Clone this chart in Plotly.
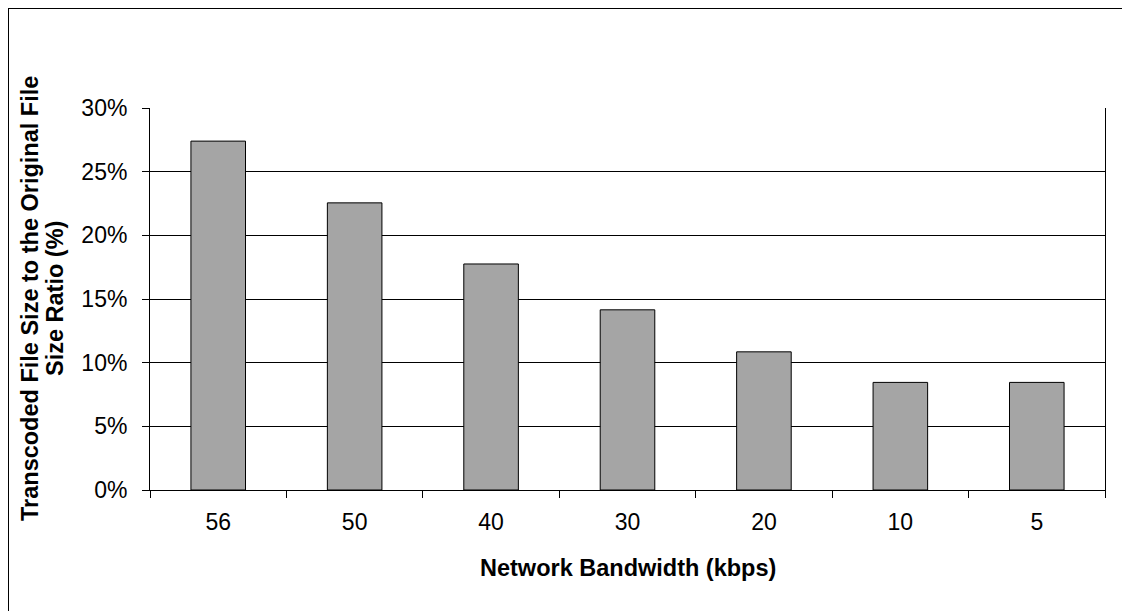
import plotly.graph_objects as go

# Network bandwidth categories and the resulting size ratios (%)
bandwidth_kbps = ["56", "50", "40", "30", "20", "10", "5"]
size_ratio_pct = [27.4, 22.55, 17.75, 14.15, 10.85, 8.45, 8.45]

y_ticks = [0, 5, 10, 15, 20, 25, 30]
y_tick_text = ["0%", "5%", "10%", "15%", "20%", "25%", "30%"]

W, H = 1122, 611
L, R, T, B = 150, 17, 108, 121
plot_w = W - L - R
plot_h = H - T - B

FONT = "Liberation Sans, Arial, Helvetica, sans-serif"
TICK_SIZE = 23
TITLE_SIZE = 23.5

fig = go.Figure(
    go.Bar(
        x=bandwidth_kbps,
        y=size_ratio_pct,
        marker=dict(color="#a5a5a5", line=dict(color="#000000", width=1)),
        width=0.4,
    )
)

fig.update_layout(
    width=W,
    height=H,
    margin=dict(l=L, r=R, t=T, b=B),
    paper_bgcolor="white",
    plot_bgcolor="white",
    showlegend=False,
    font=dict(family=FONT, size=TICK_SIZE, color="#000000"),
)

fig.update_xaxes(
    type="category",
    showline=True,
    linecolor="#000000",
    linewidth=1,
    ticks="outside",
    tickson="boundaries",
    ticklen=7,
    tickcolor="#000000",
    tickwidth=1,
    showgrid=False,
    ticklabelstandoff=11,
    tickfont=dict(family=FONT, size=TICK_SIZE),
)

fig.update_yaxes(
    range=[0, 30],
    tickvals=y_ticks,
    ticktext=y_tick_text,
    showline=True,
    linecolor="#000000",
    linewidth=1,
    mirror=True,
    ticks="outside",
    ticklen=7,
    tickcolor="#000000",
    tickwidth=1,
    showgrid=True,
    gridcolor="#000000",
    gridwidth=1,
    zeroline=False,
    ticklabelstandoff=10,
    tickfont=dict(family=FONT, size=TICK_SIZE),
)

title_font = dict(family=FONT, size=TITLE_SIZE, color="#000000", weight="bold")

# X axis title
fig.add_annotation(
    text="Network Bandwidth (kbps)",
    xref="paper", yref="paper",
    x=0.5, y=(plot_h - (568 - T)) / plot_h,
    xanchor="center", yanchor="middle",
    showarrow=False,
    font=title_font,
)

# Y axis title, two rotated lines
y_title_lines = ["Transcoded File Size to the Original File", "Size Ratio (%)"]
y_title_x = [30, 55]
for line_text, px in zip(y_title_lines, y_title_x):
    fig.add_annotation(
        text=line_text,
        xref="paper", yref="paper",
        x=(px - L) / plot_w, y=0.5,
        xanchor="center", yanchor="middle",
        textangle=-90,
        showarrow=False,
        font=title_font,
    )

# Chart frame (top and left edges)
fig.add_shape(
    type="line", xref="paper", yref="paper",
    x0=(8 - L) / plot_w, x1=(W + 5 - L) / plot_w,
    y0=(H - B - 8.5) / plot_h, y1=(H - B - 8.5) / plot_h,
    line=dict(color="#000000", width=1),
)
fig.add_shape(
    type="line", xref="paper", yref="paper",
    x0=(8.5 - L) / plot_w, x1=(8.5 - L) / plot_w,
    y0=(H - B - 8) / plot_h, y1=(H - B - H - 5) / plot_h,
    line=dict(color="#000000", width=1),
)

fig.write_html("out.html")
